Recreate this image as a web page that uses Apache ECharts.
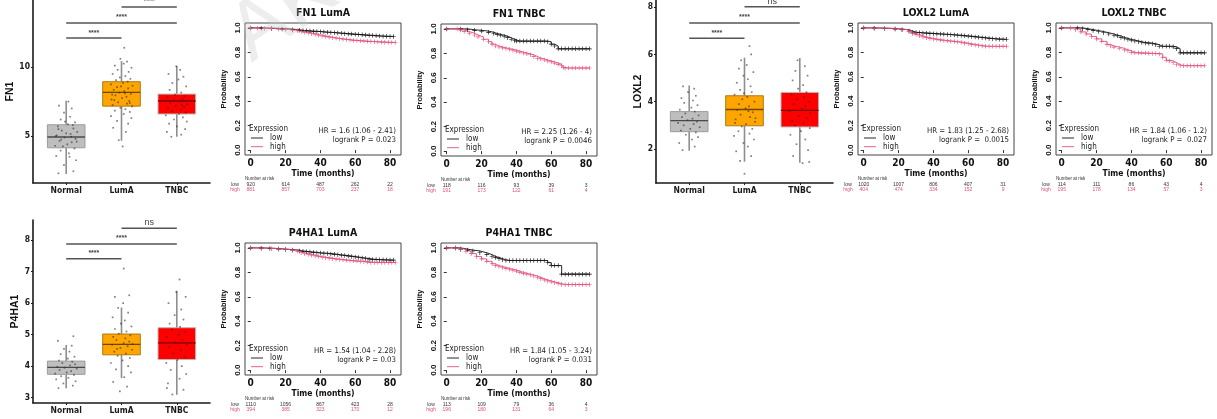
<!DOCTYPE html>
<html><head><meta charset="utf-8">
<script src="https://cdn.jsdelivr.net/npm/echarts@6/dist/echarts.min.js"></script>
<style>html,body{margin:0;padding:0;background:#fff}#c{width:1217px;height:419px}</style>
</head><body><div id="c"></div>
<script>
// ---------------- DATA ----------------
const groups = ['Normal', 'LumA', 'TNBC'];
// box stats per group: [lower whisker, Q1, median, Q3, upper whisker]
const FN1_box   = [[2.25, 4.15, 4.93, 5.82, 7.56], [4.66, 7.17, 8.17, 8.94, 10.43], [4.95, 6.6, 7.54, 8.04, 10.07]];
const LOXL2_box = [[1.92, 2.73, 3.2, 3.58, 4.68], [1.46, 2.98, 3.67, 4.25, 5.86], [1.42, 2.93, 3.63, 4.39, 5.85]];
const P4HA1_box = [[3.3, 3.74, 3.96, 4.16, 4.67], [3.62, 4.36, 4.69, 5.02, 5.86], [3.09, 4.21, 4.74, 5.22, 6.39]];
// jittered sample points per group: [jitter offset, expression]
const FN1_pts = [
  [[-0.14,2.3],[0.13,2.45],[-0.04,2.9],[0.18,3.25],[-0.18,3.55],[0.05,3.75],[-0.1,3.95],[0.15,4.1],[-0.2,4.3],[0.02,4.4],[0.1,4.55],[-0.12,4.65],[0.17,4.8],[-0.03,4.9],[-0.17,5.05],[0.08,5.15],[0.2,5.3],[-0.08,5.4],[0.13,5.55],[-0.15,5.7],[0.03,5.85],[0.16,6.0],[-0.1,6.2],[0.07,6.4],[-0.04,6.7],[0.1,7.0],[-0.13,7.2],[0.04,7.5],[-0.06,4.25],[0.09,4.95],[-0.14,5.5],[0.19,4.6],[0.0,5.2],[-0.19,5.0],[0.12,5.8],[-0.02,6.05],[0.06,3.5],[-0.09,4.75]],
  [[0.02,4.25],[-0.05,4.7],[0.08,5.3],[-0.15,5.6],[0.12,5.9],[-0.08,6.1],[0.18,6.3],[-0.19,6.45],[0.04,6.6],[0.15,6.75],[-0.12,6.85],[0.07,6.95],[-0.02,7.05],[0.19,7.15],[-0.16,7.25],[0.1,7.35],[-0.06,7.45],[0.14,7.55],[-0.18,7.65],[0.01,7.75],[0.09,7.85],[-0.11,7.95],[0.17,8.05],[-0.04,8.15],[0.05,8.25],[-0.14,8.35],[0.12,8.45],[-0.08,8.55],[0.2,8.65],[-0.19,8.75],[0.03,8.85],[0.11,8.95],[-0.1,9.05],[0.16,9.15],[-0.03,9.25],[0.07,9.35],[-0.16,9.5],[0.13,9.65],[-0.07,9.8],[0.18,9.95],[-0.12,10.1],[0.04,10.25],[0.1,10.4],[-0.02,10.6],[0.05,11.4],[-0.13,7.6],[0.06,8.1],[-0.17,8.0],[0.15,7.4],[-0.01,8.6]],
  [[-0.1,4.95],[0.08,5.1],[-0.18,5.3],[0.15,5.5],[0.0,5.7],[-0.14,5.9],[0.18,6.05],[-0.05,6.2],[0.11,6.35],[-0.2,6.5],[0.04,6.6],[0.16,6.7],[-0.09,6.8],[0.07,6.9],[-0.16,7.0],[0.13,7.1],[-0.02,7.2],[0.19,7.3],[-0.12,7.4],[0.05,7.5],[-0.06,7.6],[0.1,7.7],[-0.17,7.8],[0.14,7.9],[-0.03,8.0],[0.08,8.15],[-0.13,8.35],[0.17,8.6],[-0.08,8.85],[0.03,9.1],[0.12,9.3],[-0.15,9.5],[0.06,9.8],[-0.01,10.05],[0.09,7.25]]
];
const LOXL2_pts = [
  [[-0.12,1.95],[0.1,2.1],[-0.18,2.25],[0.05,2.4],[0.16,2.5],[-0.06,2.6],[0.12,2.7],[-0.15,2.78],[0.02,2.85],[0.19,2.92],[-0.1,3.0],[0.08,3.05],[-0.2,3.1],[0.14,3.15],[-0.03,3.22],[0.06,3.28],[-0.13,3.35],[0.17,3.42],[-0.07,3.5],[0.1,3.58],[-0.17,3.66],[0.04,3.75],[0.15,3.85],[-0.09,3.95],[0.07,4.05],[-0.14,4.15],[0.12,4.25],[-0.02,4.4],[0.09,4.55],[-0.11,4.65]],
  [[0.0,0.95],[-0.08,1.5],[0.12,1.7],[-0.15,1.9],[0.06,2.1],[-0.02,2.25],[0.17,2.4],[-0.19,2.55],[0.09,2.65],[-0.11,2.75],[0.14,2.85],[-0.05,2.95],[0.03,3.05],[0.19,3.15],[-0.16,3.25],[0.1,3.35],[-0.07,3.45],[0.15,3.55],[-0.13,3.65],[0.02,3.72],[0.08,3.8],[-0.1,3.9],[0.18,4.0],[-0.04,4.1],[0.05,4.2],[-0.18,4.3],[0.13,4.4],[-0.08,4.5],[0.11,4.65],[-0.14,4.8],[0.06,4.95],[-0.02,5.1],[0.16,5.25],[-0.1,5.4],[0.04,5.55],[-0.06,5.75],[0.12,6.0],[0.09,6.35],[-0.17,3.1],[0.07,3.6],[-0.01,4.35],[0.2,3.3]],
  [[0.05,1.4],[-0.12,1.7],[0.15,1.95],[-0.06,2.2],[0.1,2.4],[-0.17,2.6],[0.02,2.75],[0.18,2.88],[-0.09,3.0],[0.07,3.1],[-0.14,3.2],[0.13,3.3],[-0.02,3.4],[0.19,3.5],[-0.19,3.6],[0.04,3.7],[0.1,3.8],[-0.11,3.9],[0.16,4.0],[-0.05,4.1],[0.08,4.2],[-0.15,4.3],[0.12,4.4],[-0.03,4.55],[0.06,4.7],[-0.13,4.9],[0.14,5.1],[-0.08,5.3],[0.09,5.5],[-0.04,5.75],[0.17,1.45]]
];
const P4HA1_pts = [
  [[-0.14,3.3],[0.12,3.38],[-0.05,3.45],[0.17,3.52],[-0.18,3.58],[0.04,3.63],[-0.09,3.68],[0.14,3.72],[-0.2,3.76],[0.01,3.8],[0.09,3.84],[-0.12,3.88],[0.19,3.92],[-0.03,3.95],[-0.16,3.98],[0.07,4.02],[0.16,4.06],[-0.07,4.1],[0.11,4.14],[-0.13,4.18],[0.03,4.24],[0.15,4.3],[-0.1,4.38],[0.06,4.46],[-0.04,4.55],[0.1,4.65],[-0.15,4.8],[0.13,4.95]],
  [[-0.03,3.2],[0.1,3.35],[-0.15,3.5],[0.05,3.65],[0.17,3.8],[-0.1,3.9],[0.12,4.0],[-0.19,4.1],[0.02,4.18],[0.15,4.26],[-0.07,4.33],[0.08,4.4],[-0.13,4.46],[0.19,4.52],[-0.02,4.58],[0.11,4.63],[-0.17,4.68],[0.04,4.73],[0.14,4.78],[-0.09,4.83],[0.07,4.88],[-0.15,4.93],[0.16,4.98],[-0.05,5.03],[0.09,5.1],[-0.12,5.18],[0.18,5.26],[-0.01,5.35],[0.06,5.45],[-0.16,5.55],[0.12,5.7],[-0.06,5.85],[0.03,6.0],[-0.12,6.2],[0.14,6.25],[0.04,7.1],[-0.08,4.55],[0.2,4.7]],
  [[-0.08,3.1],[0.12,3.25],[-0.16,3.45],[0.05,3.6],[0.17,3.75],[-0.11,3.88],[0.09,4.0],[-0.19,4.1],[0.01,4.2],[0.14,4.3],[-0.06,4.4],[0.07,4.5],[-0.14,4.6],[0.18,4.68],[-0.03,4.76],[0.1,4.84],[-0.18,4.92],[0.03,5.0],[0.15,5.08],[-0.09,5.16],[0.06,5.25],[-0.13,5.35],[0.12,5.48],[-0.04,5.62],[0.08,5.8],[-0.15,6.0],[0.16,6.2],[-0.01,6.35],[0.05,6.75],[-0.18,3.3]]
];
// significance brackets: [from group, to group, height, label]
const FN1_sig   = [[1, 2, 12.1, '****'], [1, 3, 13.19, '****'], [2, 3, 14.35, '****']];
const LOXL2_sig = [[1, 2, 6.68, '****'], [1, 3, 7.33, '****'], [2, 3, 8.01, 'ns']];
const P4HA1_sig = [[1, 2, 7.41, '****'], [1, 3, 7.88, '****'], [2, 3, 8.38, 'ns']];
const FN1_ticks = [5, 10], LOXL2_ticks = [2, 4, 6, 8], P4HA1_ticks = [3, 4, 5, 6, 7, 8];

// Kaplan-Meier curves: [months, survival probability]
const FN1_LumA_low = [[0,1],[6,0.998],[12,0.995],[18,0.99],[24,0.985],[28,0.98],[30,0.978],[32,0.976],[34,0.974],[36,0.972],[38,0.97],[40,0.968],[42,0.966],[44,0.964],[46,0.962],[48,0.96],[50,0.958],[52,0.956],[54,0.953],[56,0.951],[58,0.949],[60,0.947],[62,0.945],[64,0.943],[66,0.941],[68,0.939],[70,0.937],[72,0.935],[74,0.934],[76,0.932],[78,0.931],[80,0.93],[82,0.93]];
const FN1_LumA_high = [[0,1],[4,0.998],[8,0.996],[12,0.993],[16,0.99],[20,0.986],[24,0.981],[27,0.976],[29,0.97],[31,0.964],[33,0.958],[35,0.952],[37,0.946],[39,0.94],[41,0.934],[43,0.929],[45,0.924],[47,0.919],[49,0.915],[51,0.911],[53,0.907],[55,0.904],[57,0.901],[59,0.898],[61,0.896],[63,0.894],[65,0.892],[67,0.89],[69,0.888],[71,0.887],[73,0.885],[75,0.884],[77,0.883],[79,0.882],[81,0.881],[83,0.88]];
const FN1_TNBC_low = [[0,1],[8,1],[12,0.993],[16,0.988],[20,0.982],[24,0.972],[27,0.962],[29,0.955],[31,0.948],[33,0.94],[35,0.928],[37,0.915],[39,0.905],[40,0.9],[42,0.9],[44,0.9],[46,0.9],[48,0.9],[50,0.9],[52,0.9],[54,0.9],[56,0.9],[58,0.895],[60,0.875],[62,0.86],[64,0.837],[66,0.837],[68,0.837],[70,0.837],[72,0.837],[74,0.837],[76,0.837],[78,0.837],[80,0.837],[82,0.837]];
const FN1_TNBC_high = [[0,1],[6,1],[8,0.99],[10,0.978],[13,0.965],[16,0.95],[18,0.935],[21,0.915],[24,0.895],[26,0.875],[28,0.86],[30,0.852],[32,0.845],[34,0.84],[36,0.833],[38,0.826],[40,0.818],[42,0.81],[44,0.803],[46,0.796],[48,0.788],[50,0.775],[52,0.76],[54,0.755],[56,0.745],[58,0.738],[60,0.73],[62,0.72],[64,0.71],[66,0.7],[67,0.685],[68,0.68],[70,0.68],[72,0.68],[74,0.68],[76,0.68],[78,0.68],[80,0.68],[82,0.68]];
const LOXL2_LumA_low = [[0,1],[6,0.998],[12,0.995],[18,0.99],[22,0.985],[26,0.975],[28,0.965],[30,0.962],[32,0.96],[34,0.958],[36,0.957],[38,0.955],[40,0.953],[42,0.951],[44,0.95],[46,0.948],[48,0.946],[50,0.944],[52,0.942],[54,0.94],[56,0.937],[58,0.935],[60,0.932],[62,0.929],[64,0.926],[66,0.923],[68,0.92],[70,0.917],[72,0.914],[74,0.911],[76,0.909],[78,0.908],[80,0.907],[82,0.907]];
const LOXL2_LumA_high = [[0,1],[6,0.998],[12,0.995],[18,0.99],[22,0.984],[26,0.972],[28,0.955],[30,0.945],[32,0.935],[34,0.926],[36,0.92],[38,0.914],[40,0.909],[42,0.904],[44,0.9],[46,0.897],[48,0.894],[50,0.891],[52,0.888],[54,0.885],[56,0.88],[58,0.875],[60,0.87],[62,0.865],[64,0.86],[66,0.856],[68,0.852],[70,0.85],[72,0.85],[74,0.85],[76,0.85],[78,0.85],[80,0.85],[82,0.85]];
const LOXL2_TNBC_low = [[0,1],[9,1],[12,0.993],[15,0.986],[18,0.978],[21,0.97],[24,0.96],[27,0.95],[30,0.94],[32,0.935],[34,0.922],[36,0.915],[38,0.905],[40,0.9],[42,0.893],[44,0.887],[46,0.88],[48,0.877],[50,0.875],[52,0.87],[54,0.862],[56,0.85],[58,0.85],[60,0.85],[62,0.85],[64,0.845],[66,0.83],[68,0.796],[70,0.796],[72,0.796],[74,0.796],[76,0.796],[78,0.796],[80,0.796],[82,0.796]];
const LOXL2_TNBC_high = [[0,1],[5,1],[8,0.985],[11,0.967],[14,0.95],[17,0.93],[20,0.91],[23,0.89],[26,0.865],[28,0.852],[30,0.843],[33,0.833],[36,0.82],[38,0.813],[40,0.8],[42,0.796],[44,0.796],[46,0.794],[48,0.794],[50,0.792],[52,0.79],[54,0.79],[56,0.787],[58,0.76],[60,0.735],[62,0.73],[64,0.715],[66,0.7],[68,0.69],[70,0.69],[72,0.69],[74,0.69],[76,0.69],[78,0.69],[80,0.69],[82,0.69]];
const P4HA1_LumA_low = [[0,1],[6,0.998],[11,0.995],[16,0.99],[20,0.986],[24,0.982],[28,0.975],[30,0.972],[32,0.969],[34,0.966],[36,0.963],[38,0.96],[40,0.958],[42,0.956],[44,0.954],[46,0.951],[48,0.947],[50,0.944],[52,0.94],[54,0.937],[56,0.933],[58,0.929],[60,0.925],[62,0.921],[64,0.917],[66,0.913],[68,0.908],[70,0.906],[72,0.904],[74,0.903],[76,0.902],[78,0.901],[80,0.9],[82,0.9]];
const P4HA1_LumA_high = [[0,1],[6,0.997],[12,0.993],[16,0.99],[20,0.986],[24,0.98],[27,0.972],[29,0.96],[31,0.952],[33,0.946],[35,0.94],[37,0.934],[39,0.929],[41,0.924],[43,0.92],[45,0.916],[47,0.912],[49,0.908],[51,0.905],[53,0.902],[55,0.899],[57,0.896],[59,0.894],[61,0.892],[63,0.89],[65,0.887],[67,0.884],[69,0.881],[71,0.88],[73,0.88],[75,0.88],[77,0.88],[79,0.88],[81,0.88],[83,0.88]];
const P4HA1_TNBC_low = [[0,1],[5,1],[8,0.99],[12,0.982],[15,0.975],[19,0.96],[23,0.945],[26,0.93],[28,0.922],[30,0.912],[32,0.903],[34,0.897],[36,0.897],[38,0.897],[40,0.897],[42,0.897],[44,0.897],[46,0.897],[48,0.897],[50,0.897],[52,0.897],[54,0.897],[56,0.897],[58,0.88],[60,0.855],[62,0.855],[64,0.855],[66,0.785],[68,0.785],[70,0.785],[72,0.785],[74,0.785],[76,0.785],[78,0.785],[80,0.785],[82,0.785]];
const P4HA1_TNBC_high = [[0,1],[5,1],[8,0.985],[11,0.97],[14,0.953],[17,0.93],[20,0.91],[23,0.89],[26,0.87],[28,0.855],[30,0.848],[32,0.84],[34,0.832],[36,0.825],[38,0.818],[40,0.81],[42,0.8],[44,0.792],[46,0.785],[48,0.778],[50,0.77],[52,0.76],[54,0.748],[56,0.738],[58,0.73],[60,0.722],[62,0.715],[64,0.708],[66,0.7],[68,0.7],[70,0.7],[72,0.7],[74,0.7],[76,0.7],[78,0.7],[80,0.7],[82,0.7]];

const KM_titles = ['FN1 LumA', 'FN1 TNBC', 'LOXL2 LumA', 'LOXL2 TNBC', 'P4HA1 LumA', 'P4HA1 TNBC'];
const KM_hr = ['HR = 1.6 (1.06 - 2.41)', 'HR = 2.25 (1.26 - 4)', 'HR = 1.83 (1.25 - 2.68)', 'HR = 1.84 (1.06 - 1.2)', 'HR = 1.54 (1.04 - 2.28)', 'HR = 1.84 (1.05 - 3.24)'];
const KM_p = ['logrank P = 0.023', 'logrank P = 0.0046', 'logrank P =  0.0015', 'logrank P =  0.027', 'logrank P = 0.03', 'logrank P = 0.031'];
const risk_low  = [[920, 614, 487, 262, 22], [118, 116, 93, 39, 3], [1020, 1007, 806, 407, 31], [114, 111, 86, 43, 4], [1110, 1056, 867, 423, 28], [113, 109, 79, 36, 4]];
const risk_high = [[881, 857, 703, 237, 18], [191, 173, 122, 61, 4], [404, 474, 334, 152, 9], [195, 178, 134, 57, 3], [394, 385, 323, 170, 12], [196, 180, 131, 64, 3]];
const time_ticks = [0, 20, 40, 60, 80];
const prob_ticks = [0, 0.2, 0.4, 0.6, 0.8, 1.0];

// ---------------- STYLE / LAYOUT ----------------
const NARROW = '"Liberation Sans Narrow","DejaVu Sans Condensed","Liberation Sans",Arial,sans-serif';
const REG = '"Liberation Sans",Arial,sans-serif';
const FILL = ['#BEBEBE', '#FFA500', '#FF0000'];
const BORDER = ['#9c9c9c', '#b07a10', '#b8b8b8'];
const MED = ['#4a4a4a', '#6e4600', '#7a0000'];
const WHISK = '#8e8e8e';
const LOWC = '#111111', HIGHC = '#e4507a';

const boxPanels = [
  {gene: 'FN1', left: 33, top: 0, ymin: 1.6, ymax: 14.86, ticks: FN1_ticks, box: FN1_box, sig: FN1_sig, pts: FN1_pts},
  {gene: 'LOXL2', left: 656, top: 0, ymin: 0.56, ymax: 8.3, ticks: LOXL2_ticks, box: LOXL2_box, sig: LOXL2_sig, pts: LOXL2_pts},
  {gene: 'P4HA1', left: 33, top: 220, ymin: 2.83, ymax: 8.64, ticks: P4HA1_ticks, box: P4HA1_box, sig: P4HA1_sig, pts: P4HA1_pts}
];
const kmCurves = [
  [FN1_LumA_low, FN1_LumA_high], [FN1_TNBC_low, FN1_TNBC_high],
  [LOXL2_LumA_low, LOXL2_LumA_high], [LOXL2_TNBC_low, LOXL2_TNBC_high],
  [P4HA1_LumA_low, P4HA1_LumA_high], [P4HA1_TNBC_low, P4HA1_TNBC_high]
];
const kmPos = [[245, 23], [441, 24], [858, 23], [1056, 23], [245, 243], [441, 243]];
const KW = 156, KH = 132;

const grid = [], xAxis = [], yAxis = [], series = [], graphic = [];
const PLUS = 'path://M4.3,0H5.7V10H4.3ZM0,4.3H10V5.7H0Z';

boxPanels.forEach(function (bp) {
  const gi = grid.length;
  grid.push({left: bp.left, top: bp.top, width: 177, height: 183, containLabel: false});
  xAxis.push({
    gridIndex: gi, type: 'value', min: 0.4, max: 3.6,
    axisLine: {show: true, lineStyle: {color: '#1a1a1a', width: 1.6}},
    axisTick: {show: true, customValues: [1, 2, 3], length: 2, lineStyle: {color: '#1a1a1a'}},
    axisLabel: {customValues: [1, 2, 3], formatter: function (v) { return groups[Math.round(v) - 1]; },
      margin: 3, fontSize: 8.5, fontWeight: 'bold', color: '#1a1a1a', fontFamily: NARROW},
    splitLine: {show: false}
  });
  yAxis.push({
    gridIndex: gi, type: 'value', min: bp.ymin, max: bp.ymax,
    name: bp.gene, nameLocation: 'middle', nameGap: 12,
    nameTextStyle: {fontSize: 10.5, fontWeight: 'bold', color: '#111', fontFamily: REG},
    axisLine: {show: true, lineStyle: {color: '#1a1a1a', width: 1.6}},
    axisTick: {show: true, customValues: bp.ticks, length: 2, lineStyle: {color: '#1a1a1a'}},
    axisLabel: {customValues: bp.ticks, margin: 3, fontSize: 8.5, fontWeight: 'bold', color: '#1a1a1a', fontFamily: NARROW},
    splitLine: {show: false}
  });
  series.push({
    type: 'custom', xAxisIndex: gi, yAxisIndex: gi, clip: false, silent: true,
    data: bp.box.map(function (b, i) { return [i + 1].concat(b); }),
    renderItem: function (params, api) {
      const i = params.dataIndex, x = api.value(0);
      const lo = api.coord([x, api.value(1)]), q1 = api.coord([x, api.value(2)]),
            md = api.coord([x, api.value(3)]), q3 = api.coord([x, api.value(4)]), hi = api.coord([x, api.value(5)]);
      const w = api.size([0.68, 0])[0], cx = md[0];
      return {type: 'group', children: [
        {type: 'line', shape: {x1: cx, y1: hi[1], x2: cx, y2: lo[1]}, style: {stroke: WHISK, lineWidth: 1.6}},
        {type: 'rect', shape: {x: cx - w / 2, y: q3[1], width: w, height: q1[1] - q3[1]}, style: {fill: FILL[i], stroke: BORDER[i], lineWidth: 1}},
        {type: 'line', shape: {x1: cx - w / 2, y1: md[1], x2: cx + w / 2, y2: md[1]}, style: {stroke: MED[i], lineWidth: 1.4}}
      ]};
    }
  });
  // jittered points drawn over the boxes
  const pts = [];
  bp.pts.forEach(function (arr, g) { arr.forEach(function (p) { pts.push([g + 1 + p[0], p[1]]); }); });
  series.push({
    type: 'scatter', xAxisIndex: gi, yAxisIndex: gi, data: pts, symbol: 'rect', symbolSize: 1.7, silent: true,
    itemStyle: {color: 'rgba(45,45,45,0.75)'}, emphasis: {disabled: true}
  });
  series.push({
    type: 'custom', xAxisIndex: gi, yAxisIndex: gi, clip: false, silent: true,
    data: bp.sig.map(function (s) { return [s[0], s[1], s[2]]; }),
    renderItem: function (params, api) {
      const a = api.coord([api.value(0), api.value(2)]), b = api.coord([api.value(1), api.value(2)]);
      const lab = bp.sig[params.dataIndex][3];
      const ns = lab === 'ns';
      return {type: 'group', children: [
        {type: 'line', shape: {x1: a[0], y1: a[1], x2: b[0], y2: b[1]}, style: {stroke: '#555', lineWidth: 1.5}},
        {type: 'text', x: (a[0] + b[0]) / 2, y: a[1] - (ns ? 1 : 2),
          style: {text: lab, fill: '#444', font: (ns ? '9px ' : 'bold 7px ') + REG,
            align: 'center', verticalAlign: 'bottom', textAlign: 'center', textVerticalAlign: 'bottom'}}
      ]};
    }
  });
});

kmCurves.forEach(function (cv, k) {
  const gi = grid.length;
  const L = kmPos[k][0], T = kmPos[k][1];
  grid.push({left: L, top: T, width: KW, height: KH, show: true, borderColor: '#444', borderWidth: 1, backgroundColor: 'transparent'});
  const base = {gridIndex: gi, type: 'value', min: -3.3, max: 86.3, splitLine: {show: false}};
  xAxis.push(Object.assign({}, base, {
    name: 'Time (months)', nameLocation: 'middle', nameGap: 14,
    nameTextStyle: {fontSize: 8.5, fontWeight: 'bold', color: '#111', fontFamily: NARROW},
    axisLine: {show: false},
    axisTick: {show: true, customValues: time_ticks, length: 3, lineStyle: {color: '#333'}},
    axisLabel: {customValues: time_ticks, margin: 3, fontSize: 10, fontWeight: 'bold', color: '#111', fontFamily: NARROW}
  }));
  const rows = [[risk_low[k], '#333', 27], [risk_high[k], HIGHC, 32]];
  rows.forEach(function (r) {
    xAxis.push(Object.assign({}, base, {
      position: 'bottom', offset: r[2],
      axisLine: {show: false}, axisTick: {show: false},
      axisLabel: {customValues: time_ticks, margin: 0, fontSize: 5, color: r[1], fontFamily: REG,
        formatter: function (v) { return String(r[0][Math.round(v / 20)]); }}
    }));
  });
  yAxis.push({
    gridIndex: gi, type: 'value', min: -0.04, max: 1.04, splitLine: {show: false},
    name: 'Probability', nameLocation: 'middle', nameGap: 17,
    nameTextStyle: {fontSize: 7.5, fontWeight: 'bold', color: '#111', fontFamily: REG},
    axisLine: {show: false},
    axisTick: {show: true, customValues: prob_ticks, length: 3, lineStyle: {color: '#333'}},
    axisLabel: {customValues: prob_ticks, rotate: 90, margin: 3, fontSize: 8, fontWeight: 'bold', color: '#111', fontFamily: REG,
      formatter: function (v) { return v.toFixed(1); }}
  });
  const xi = xAxis.length - 3;
  [[cv[0], LOWC, 'low'], [cv[1], HIGHC, 'high']].forEach(function (c) {
    series.push({
      type: 'line', name: c[2], xAxisIndex: xi, yAxisIndex: gi, data: c[0], step: 'end',
      symbol: PLUS, symbolSize: 4.5, showSymbol: true, silent: true,
      lineStyle: {color: c[1], width: 0.9}, itemStyle: {color: c[1]},
      emphasis: {disabled: true}, animation: false
    });
  });
  // title
  graphic.push({type: 'text', x: L + KW / 2, y: T - 10, silent: true,
    style: {text: KM_titles[k], font: 'bold 10.5px ' + NARROW, fill: '#111', align: 'center', verticalAlign: 'middle', textAlign: 'center', textVerticalAlign: 'middle'}});
  // legend
  graphic.push({type: 'text', x: L + 4, y: T + 106, silent: true,
    style: {text: 'Expression', font: '8px ' + NARROW, fill: '#222', align: 'left', verticalAlign: 'middle', textAlign: 'left', textVerticalAlign: 'middle'}});
  [['low', LOWC, 115], ['high', HIGHC, 123.7]].forEach(function (e) {
    graphic.push({type: 'line', silent: true, shape: {x1: L + 6, y1: T + e[2], x2: L + 18, y2: T + e[2]}, style: {stroke: e[1], lineWidth: 0.9}});
    graphic.push({type: 'text', x: L + 25, y: T + e[2], silent: true,
      style: {text: e[0], font: '8px ' + NARROW, fill: '#222', align: 'left', verticalAlign: 'middle', textAlign: 'left', textVerticalAlign: 'middle'}});
  });
  // HR text
  [[KM_hr[k], 108], [KM_p[k], 117]].forEach(function (h) {
    graphic.push({type: 'text', x: L + KW - 5, y: T + h[1], silent: true,
      style: {text: h[0], font: '7.8px ' + NARROW, fill: '#222', align: 'right', verticalAlign: 'middle', textAlign: 'right', textVerticalAlign: 'middle'}});
  });
  // number at risk labels
  graphic.push({type: 'text', x: L, y: T + KH + 24, silent: true,
    style: {text: 'Number at risk', font: '4.5px ' + REG, fill: '#333', align: 'left', verticalAlign: 'middle', textAlign: 'left', textVerticalAlign: 'middle'}});
  [['low', '#333', 29.7], ['high', HIGHC, 34.7]].forEach(function (e) {
    graphic.push({type: 'text', x: L - 10, y: T + KH + e[2], silent: true,
      style: {text: e[0], font: '5px ' + REG, fill: e[1], align: 'center', verticalAlign: 'middle', textAlign: 'center', textVerticalAlign: 'middle'}});
  });
});

// watermark
graphic.push({type: 'text', x: 262, y: 78, rotation: 0.6, silent: true, z: 100,
  style: {text: 'AK', font: '82px ' + REG, fill: 'rgba(200,200,200,0.32)', align: 'left', verticalAlign: 'bottom', textAlign: 'left', textVerticalAlign: 'bottom'}});

const chart = echarts.init(document.getElementById('c'), null, {renderer: 'canvas'});
chart.setOption({
  animation: false,
  backgroundColor: '#ffffff',
  grid: grid, xAxis: xAxis, yAxis: yAxis, series: series, graphic: graphic
});
</script>
</body></html>
